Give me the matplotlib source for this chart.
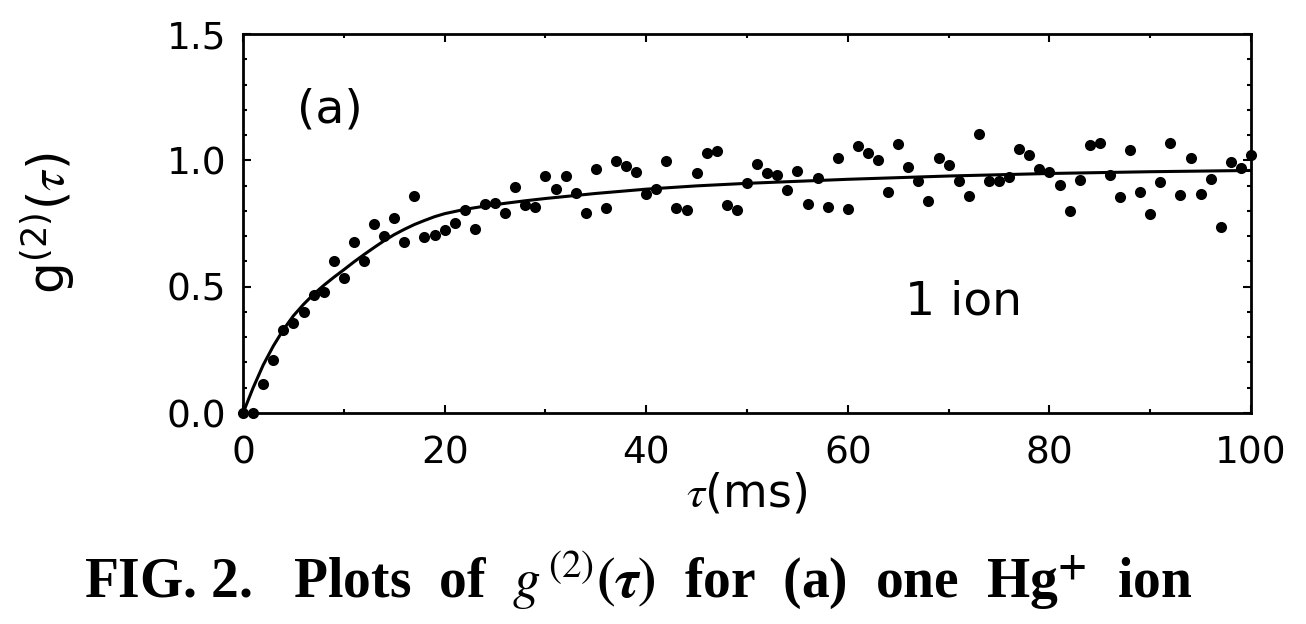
import matplotlib
matplotlib.use("Agg")
import matplotlib.pyplot as plt
from matplotlib.ticker import MultipleLocator

# measured g2 points, one per ms
tau_ms = list(range(0, 101))
g2_points = [
    0.00, 0.00, 0.115, 0.21, 0.33, 0.357, 0.40, 0.467, 0.48, 0.60,
    0.533, 0.678, 0.60, 0.748, 0.70, 0.77, 0.678, 0.859, 0.695, 0.704,
    0.725, 0.753, 0.803, 0.727, 0.827, 0.832, 0.793, 0.893, 0.823, 0.817,
    0.938, 0.885, 0.938, 0.872, 0.79, 0.964, 0.81, 0.998, 0.977, 0.955,
    0.867, 0.885, 0.998, 0.81, 0.803, 0.951, 1.03, 1.038, 0.823, 0.803,
    0.909, 0.985, 0.951, 0.942, 0.882, 0.959, 0.827, 0.929, 0.814, 1.008,
    0.807, 1.055, 1.03, 1.001, 0.876, 1.064, 0.972, 0.919, 0.84, 1.008,
    0.981, 0.919, 0.859, 1.104, 0.919, 0.919, 0.935, 1.043, 1.021, 0.964,
    0.955, 0.902, 0.80, 0.922, 1.06, 1.07, 0.942, 0.853, 1.041, 0.876,
    0.787, 0.915, 1.07, 0.863, 1.008, 0.867, 0.925, 0.735, 0.995, 0.968,
    1.021,
]

# fitted curve
fit_tau = [0, 1, 2, 3, 4, 5, 6, 7, 8, 9, 10, 11, 12, 13, 14, 15, 16, 17,
           18, 19, 20, 22, 24, 26, 28, 30, 35, 40, 45, 50, 60, 70, 80, 90, 100]
fit_g2 = [0.0, 0.10, 0.19, 0.265, 0.33, 0.385, 0.43, 0.47, 0.505, 0.537,
          0.567, 0.598, 0.627, 0.655, 0.682, 0.706, 0.727, 0.746, 0.762,
          0.777, 0.789, 0.806, 0.819, 0.83, 0.84, 0.849, 0.869, 0.886, 0.899,
          0.909, 0.925, 0.938, 0.948, 0.955, 0.96]

x_ticks = [0, 20, 40, 60, 80, 100]
y_ticks = [0.0, 0.5, 1.0, 1.5]

plt.rcParams['font.family'] = ['DejaVu Sans']
plt.rcParams['mathtext.fontset'] = 'stix'

fig = plt.figure(figsize=(13.06, 6.24), dpi=100)
ax = fig.add_axes([0.1861, 0.3381, 0.7718, 0.6074])

ax.plot(fit_tau, fit_g2, color='black', linewidth=2.2)
ax.plot(tau_ms, g2_points, 'o', color='black', markersize=8,
        markeredgewidth=0, clip_on=False)

ax.set_xlim(0, 100)
ax.set_ylim(0, 1.5)
ax.set_xticks(x_ticks)
ax.set_yticks(y_ticks)
ax.set_yticklabels([f"{v:.1f}" for v in y_ticks])
ax.xaxis.set_minor_locator(MultipleLocator(10))
ax.yaxis.set_minor_locator(MultipleLocator(0.1))
ax.tick_params(which='both', direction='in', top=True, right=True,
               width=1.5, labelsize=27)
ax.tick_params(which='major', length=6)
ax.tick_params(which='minor', length=3)
ax.tick_params(axis='x', pad=16)
ax.tick_params(axis='y', pad=12)
for spine in ax.spines.values():
    spine.set_linewidth(2)

ax.set_xlabel(r'$\tau$(ms)', fontsize=33, labelpad=0)
ax.set_ylabel(r'g$^{\mathregular{(2)}}$($\tau$)', fontsize=36)
ax.yaxis.set_label_coords(-0.165, 0.5)

ax.text(8.6, 1.2, '(a)', fontsize=34, ha='center', va='center')
ax.text(71.5, 0.44, '1 ion', fontsize=34, ha='center', va='center')

fig.text(0.489, 0.043,
         r'FIG. 2.   Plots  of  $\boldsymbol{g^{\,(2)}(\tau)}$  for  (a)  one  Hg$^{\boldsymbol{+}}$  ion',
         fontsize=40, fontweight='bold', family='Liberation Serif',
         ha='center', va='baseline')

fig.savefig('out.png', dpi=100)
